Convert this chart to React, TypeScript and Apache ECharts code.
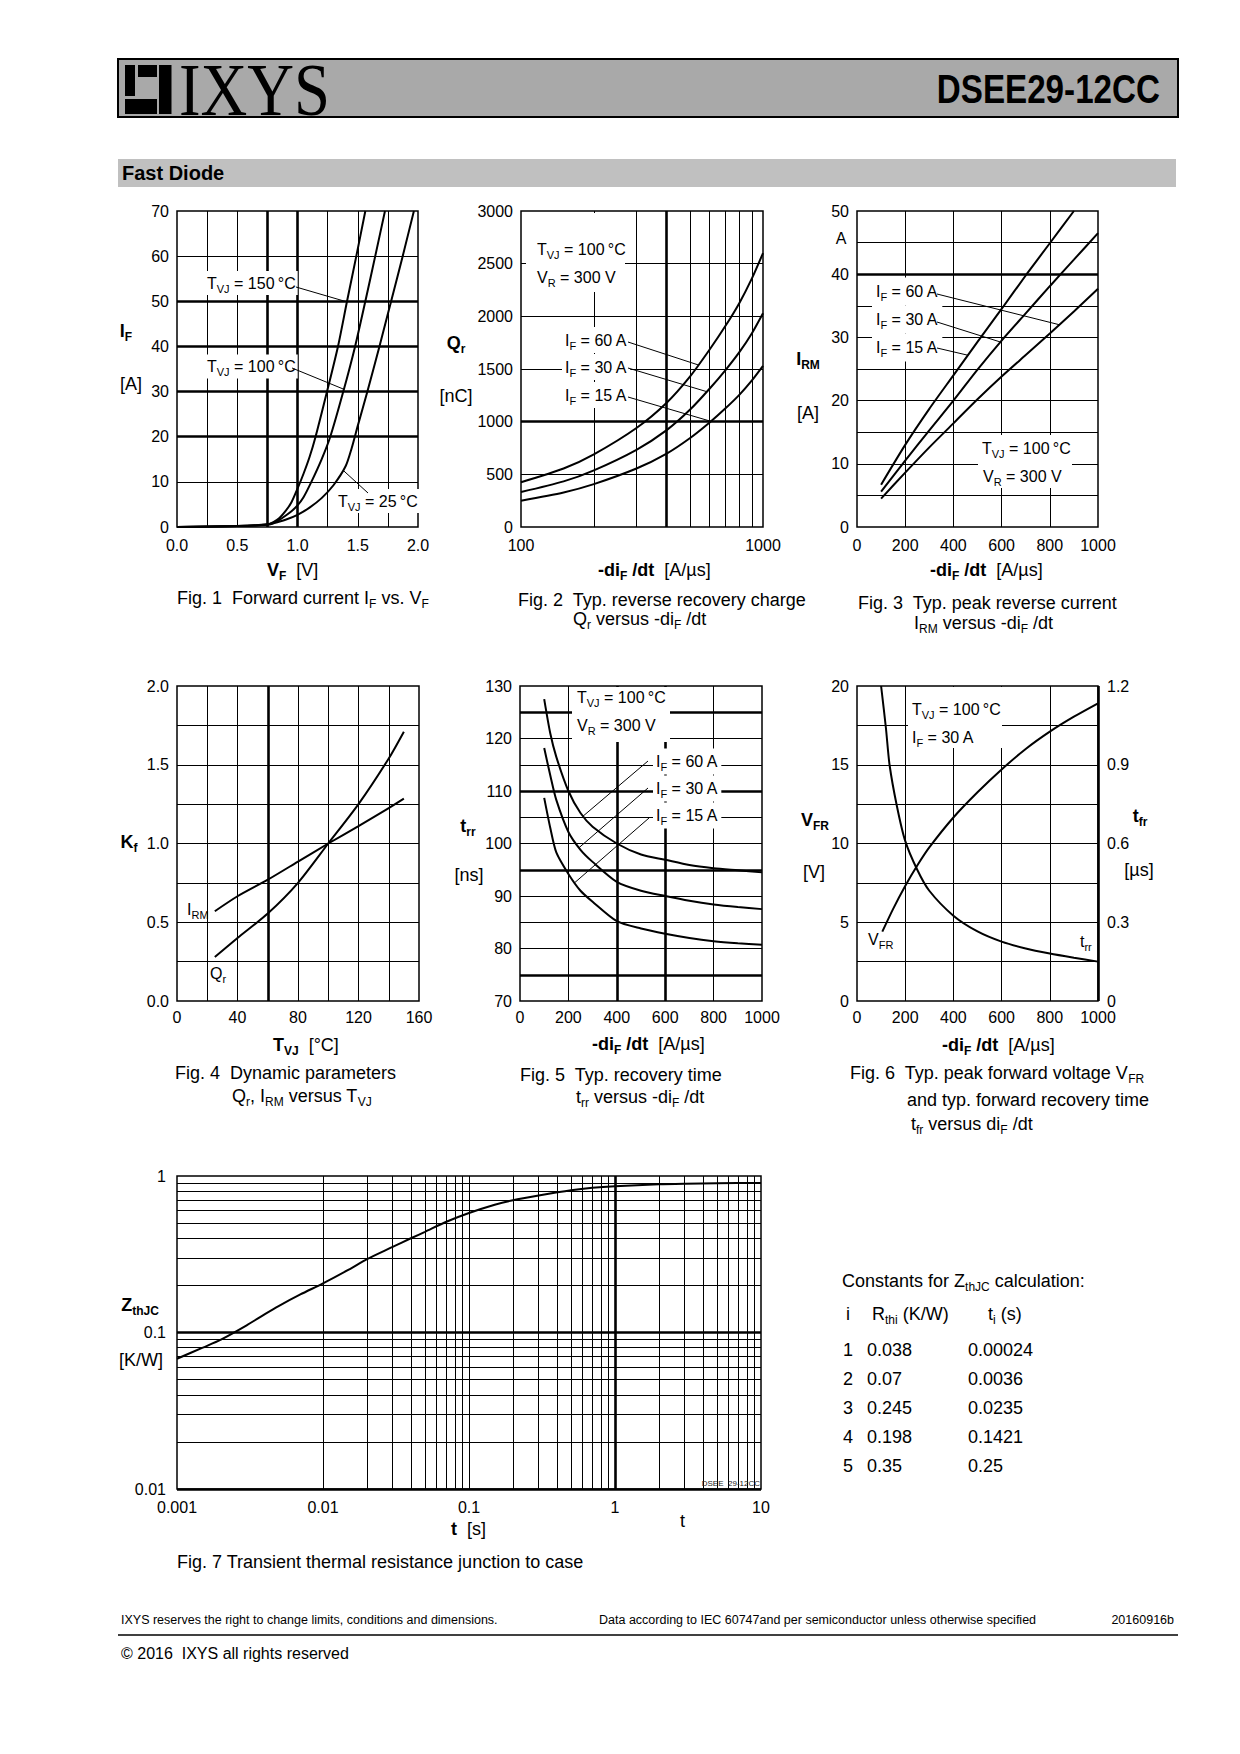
import React, { useEffect, useRef } from "react";
import * as echarts from "echarts";

type Pt = [number, number];
type Seg = [string, string];

const FONT = "'Liberation Sans', Arial, Helvetica, sans-serif";
const SERIF = "'Liberation Serif', 'Times New Roman', serif";
const DEG = "\u2009°C";

// ---------------- Fig. 1  Forward current IF vs VF ----------------
const fig1XTicks = ["0.0", "0.5", "1.0", "1.5", "2.0"];
const fig1YTicks = ["0", "10", "20", "30", "40", "50", "60", "70"];
const fig1Tvj150: Pt[] = [[0, 0], [0.5, 0.2], [0.75, 0.6], [0.8, 1.1], [0.85, 2.0], [0.9, 3.5], [0.95, 5.5], [1.0, 8.5], [1.05, 11.8], [1.1, 15.5], [1.15, 20], [1.245, 30], [1.336, 40], [1.411, 50], [1.488, 60], [1.563, 70]];
const fig1Tvj100: Pt[] = [[0, 0], [0.5, 0.2], [0.75, 0.55], [0.8, 0.95], [0.85, 1.6], [0.9, 2.5], [0.95, 3.5], [1.0, 4.8], [1.05, 6.6], [1.115, 10], [1.2, 15], [1.272, 20], [1.38, 30], [1.478, 40], [1.563, 50], [1.645, 60], [1.726, 70]];
const fig1Tvj25: Pt[] = [[0, 0], [0.5, 0.2], [0.75, 0.5], [0.8, 0.8], [0.9, 1.6], [1.0, 2.7], [1.1, 4.3], [1.2, 6.4], [1.3, 9.3], [1.4, 13.5], [1.45, 17.5], [1.5, 22.4], [1.58, 30], [1.68, 40], [1.777, 50], [1.873, 60], [1.966, 70]];
const fig1XGrid = [0.25, 0.5, 0.75, 1.0, 1.25, 1.5, 1.75];
const fig1XBold = [0.75, 1.0];
const fig1YGrid = [10, 20, 30, 40, 50, 60];
const fig1YBold = [20, 30, 40, 50];

// ---------------- Fig. 2  Qr versus -diF/dt ----------------
const fig2XTicks = ["100", "1000"];
const fig2YTicks = ["0", "500", "1000", "1500", "2000", "2500", "3000"];
const fig2If60: Pt[] = [[100, 425], [150, 555], [200, 690], [300, 940], [400, 1180], [500, 1430], [600, 1680], [700, 1910], [800, 2130], [900, 2360], [1000, 2600]];
const fig2If30: Pt[] = [[100, 332], [150, 433], [200, 538], [300, 733], [400, 920], [500, 1115], [600, 1310], [700, 1490], [800, 1662], [900, 1840], [1000, 2030]];
const fig2If15: Pt[] = [[100, 250], [150, 328], [200, 407], [300, 555], [400, 697], [500, 845], [600, 990], [700, 1127], [800, 1257], [900, 1392], [1000, 1530]];
const fig2XGrid = [200, 300, 400, 500, 600, 700, 800, 900];
const fig2XBold = [400];
const fig2YGrid = [500, 1000, 1500, 2000, 2500];
const fig2YBold = [1000];

// ---------------- Fig. 3  IRM versus -diF/dt ----------------
const fig3XTicks = ["0", "200", "400", "600", "800", "1000"];
const fig3YTicks = ["0", "10", "20", "30", "40", "50"];
const fig3If60: Pt[] = [[100, 6.7], [200, 13.0], [300, 18.7], [400, 24.0], [500, 29.3], [600, 34.5], [700, 39.8], [800, 44.9], [900, 50]];
const fig3If30: Pt[] = [[100, 5.6], [200, 10.5], [300, 15.3], [400, 20.0], [500, 24.9], [600, 29.5], [700, 33.8], [800, 38.1], [900, 42.3], [1000, 46.5]];
const fig3If15: Pt[] = [[100, 4.5], [200, 8.6], [300, 12.6], [400, 16.4], [500, 20.2], [600, 23.8], [700, 27.2], [800, 30.6], [900, 34.1], [1000, 37.7]];
const fig3XGrid = [200, 400, 600, 800];
const fig3YGrid = [5, 10, 15, 20, 25, 30, 35, 40, 45];
const fig3YBold = [40];

// ---------------- Fig. 4  Kf versus TVJ ----------------
const fig4XTicks = ["0", "40", "80", "120", "160"];
const fig4YTicks = ["0.0", "0.5", "1.0", "1.5", "2.0"];
const fig4Irm: Pt[] = [[25, 0.57], [40, 0.665], [60, 0.77], [80, 0.885], [100, 1.0], [120, 1.11], [140, 1.225], [150, 1.285]];
const fig4Qr: Pt[] = [[25, 0.28], [40, 0.4], [60, 0.555], [80, 0.75], [100, 1.0], [120, 1.25], [140, 1.54], [150, 1.71]];
const fig4XGrid = [20, 40, 60, 80, 100, 120, 140];
const fig4XBold = [60];
const fig4YGrid = [0.25, 0.5, 0.75, 1.0, 1.25, 1.5, 1.75];

// ---------------- Fig. 5  trr versus -diF/dt ----------------
const fig5XTicks = ["0", "200", "400", "600", "800", "1000"];
const fig5YTicks = ["70", "80", "90", "100", "110", "120", "130"];
const fig5If60: Pt[] = [[100, 127.5], [125, 121], [150, 116.5], [200, 110], [250, 105.8], [300, 103.2], [400, 100], [500, 97.9], [600, 96.9], [700, 95.9], [800, 95.3], [900, 94.9], [1000, 94.5]];
const fig5If30: Pt[] = [[100, 118.2], [125, 113], [150, 108.3], [200, 102.2], [250, 98.8], [300, 96.5], [400, 92.7], [500, 91.0], [600, 90.0], [700, 89.1], [800, 88.4], [900, 87.9], [1000, 87.5]];
const fig5If15: Pt[] = [[100, 108.7], [125, 103], [150, 98.3], [200, 94.2], [250, 91.0], [300, 88.9], [400, 85.2], [500, 83.8], [600, 82.8], [700, 82.0], [800, 81.4], [900, 81.0], [1000, 80.7]];
const fig5XGrid = [200, 400, 600, 800];
const fig5XBold = [400, 600];
const fig5YGrid = [75, 80, 85, 90, 95, 100, 105, 110, 115, 120, 125];
const fig5YBold = [75, 95, 110, 125];

// ---------------- Fig. 6  VFR and tfr versus diF/dt ----------------
const fig6XTicks = ["0", "200", "400", "600", "800", "1000"];
const fig6YLeftTicks = ["0", "5", "10", "15", "20"];
const fig6YRightTicks = ["0", "0.3", "0.6", "0.9", "1.2"];
const fig6Vfr: Pt[] = [[105, 4.4], [150, 5.85], [200, 7.3], [250, 8.6], [300, 9.75], [400, 11.65], [500, 13.25], [600, 14.7], [700, 16.0], [800, 17.1], [900, 18.05], [1000, 18.9]];
const fig6Tfr: Pt[] = [[100, 1.2], [120, 1.04], [135, 0.9], [165, 0.745], [200, 0.61], [250, 0.5], [300, 0.42], [400, 0.325], [500, 0.265], [600, 0.226], [700, 0.2], [800, 0.181], [900, 0.165], [1000, 0.15]];
const fig6XGrid = [200, 400, 600, 800, 1000];
const fig6XBold = [1000];
const fig6YGrid = [2.5, 5, 7.5, 10, 12.5, 15, 17.5];

// ---------------- Fig. 7  Transient thermal resistance ----------------
const fig7XTicks = ["0.001", "0.01", "0.1", "1", "10"];
const fig7YTicks = ["0.01", "0.1", "1"];
const fig7Zth: Pt[] = [[0.001, 0.068], [0.0015, 0.08], [0.002, 0.09], [0.003, 0.111], [0.004, 0.131], [0.005, 0.148], [0.007, 0.175], [0.01, 0.206], [0.015, 0.252], [0.02, 0.294], [0.03, 0.352], [0.04, 0.4], [0.05, 0.44], [0.07, 0.51], [0.1, 0.58], [0.15, 0.655], [0.2, 0.7], [0.3, 0.75], [0.5, 0.81], [0.7, 0.84], [1, 0.86], [2, 0.885], [3, 0.893], [5, 0.9], [10, 0.903]];
const fig7XDecades = [0.001, 0.01, 0.1, 1];
const fig7YDecades = [0.01, 0.1];
const logMult = [1, 2, 3, 4, 5, 6, 7, 8, 9];
const fig7XBold = [1];
const fig7YBold = [0.1, 0.01];

// ---------------- Constants table ----------------
const zthIndex = ["1", "2", "3", "4", "5"];
const zthR = ["0.038", "0.07", "0.245", "0.198", "0.35"];
const zthTau = ["0.00024", "0.0036", "0.0235", "0.1421", "0.25"];

const THIN = 1;
const BOLD = 2.6;
const CURVE = 2;

function fmt(labels: string[]) {
  return (v: number) => {
    const s = labels.find((l) => Math.abs(parseFloat(l) - v) <= 1e-6 * Math.max(Math.abs(v), 1e-9) + 1e-12);
    return s ?? "";
  };
}

function baseAxis(gridIndex: number, labels: string[], margin: number) {
  return {
    gridIndex,
    axisLine: { show: false },
    axisTick: { show: false },
    splitLine: { show: false },
    minorTick: { show: false },
    axisLabel: {
      color: "#000",
      fontSize: 16,
      fontFamily: FONT,
      margin,
      showMinLabel: true,
      showMaxLabel: true,
      formatter: fmt(labels),
    },
  };
}

function linAxis(gridIndex: number, min: number, max: number, interval: number, labels: string[], margin: number, extra: any = {}) {
  return { type: "value", min, max, interval, ...baseAxis(gridIndex, labels, margin), ...extra };
}

function logAxis(gridIndex: number, min: number, max: number, labels: string[], margin: number) {
  return { type: "log", logBase: 10, min, max, ...baseAxis(gridIndex, labels, margin) };
}

function gridMarks(xs: number[], xb: number[], ys: number[], yb: number[]) {
  const data: any[] = [];
  xs.forEach((v) => data.push({ xAxis: v, lineStyle: { width: xb.includes(v) ? BOLD : THIN } }));
  ys.forEach((v) => data.push({ yAxis: v, lineStyle: { width: yb.includes(v) ? BOLD : THIN } }));
  return {
    silent: true,
    symbol: ["none", "none"],
    label: { show: false },
    emphasis: { disabled: true },
    lineStyle: { color: "#000", type: "solid", width: THIN, opacity: 1 },
    animation: false,
    data,
  };
}

function curve(name: string, xi: number, yi: number, data: Pt[], marks?: any) {
  const s: any = {
    type: "line",
    name,
    xAxisIndex: xi,
    yAxisIndex: yi,
    data,
    showSymbol: false,
    symbol: "none",
    smooth: 0.25,
    lineStyle: { color: "#000", width: CURVE },
    itemStyle: { color: "#000" },
    silent: true,
    z: 3,
    animation: false,
  };
  if (marks) s.markLine = marks;
  return s;
}

function interpY(data: Pt[], x: number, logX = false) {
  for (let i = 0; i < data.length - 1; i++) {
    const [x0, y0] = data[i];
    const [x1, y1] = data[i + 1];
    if (x >= x0 && x <= x1) {
      const f = logX ? Math.log(x / x0) / Math.log(x1 / x0) : (x - x0) / (x1 - x0);
      return y0 + f * (y1 - y0);
    }
  }
  return data[data.length - 1][1];
}

function richText(segs: Seg[], size: number) {
  const sub = Math.round(size * 0.66);
  const lh = Math.round(size * 1.35);
  return {
    text: segs.map(([t, k]) => `{${k}|${t}}`).join(""),
    rich: {
      n: { fontSize: size, fontFamily: FONT, fill: "#000", lineHeight: lh, verticalAlign: "middle" },
      b: { fontSize: size, fontFamily: FONT, fontWeight: "bold", fill: "#000", lineHeight: lh, verticalAlign: "middle" },
      s: { fontSize: sub, fontFamily: FONT, fill: "#000", lineHeight: sub, verticalAlign: "bottom" },
      bs: { fontSize: sub, fontFamily: FONT, fontWeight: "bold", fill: "#000", lineHeight: sub, verticalAlign: "bottom" },
    },
  };
}

function txt(x: number, y: number, segs: Seg[], size = 16, extra: any = {}) {
  const r = richText(segs, size);
  const style: any = { text: r.text, rich: r.rich, align: extra.align || "left", verticalAlign: "middle" };
  if (extra.bg) {
    style.backgroundColor = extra.bg;
    style.padding = extra.pad || [2, 3];
  }
  return { type: "text", x, y, z: 60, silent: true, style };
}

function plain(x: number, y: number, text: string, font: string, extra: any = {}) {
  const el: any = {
    type: "text",
    x,
    y,
    z: 60,
    silent: true,
    style: { text, font, fill: extra.fill || "#000", align: extra.align || "left", verticalAlign: "middle" },
  };
  if (extra.scaleX) el.scaleX = extra.scaleX;
  return el;
}

function rect(x: number, y: number, w: number, h: number, fill: string, extra: any = {}) {
  return { type: "rect", z: extra.z ?? 55, silent: true, shape: { x, y, width: w, height: h }, style: { fill, stroke: extra.stroke || null, lineWidth: extra.lw || 0 } };
}

function seg(x1: number, y1: number, x2: number, y2: number, w = 1) {
  return { type: "line", z: 61, silent: true, shape: { x1, y1, x2, y2 }, style: { stroke: "#000", lineWidth: w } };
}

function buildOption() {
  const grids = [
    { left: 177, top: 211, width: 241, height: 316 },
    { left: 521, top: 211, width: 242, height: 316 },
    { left: 857, top: 211, width: 241, height: 316 },
    { left: 177, top: 686, width: 242, height: 315 },
    { left: 520, top: 686, width: 242, height: 315 },
    { left: 857, top: 686, width: 241, height: 315 },
    { left: 177, top: 1176, width: 584, height: 313 },
  ].map((g) => ({ ...g, show: true, borderColor: "#000", borderWidth: 1.5, backgroundColor: "transparent", containLabel: false }));

  const xAxis = [
    linAxis(0, 0, 2, 0.5, fig1XTicks, 10),
    logAxis(1, 100, 1000, fig2XTicks, 10),
    linAxis(2, 0, 1000, 200, fig3XTicks, 10),
    linAxis(3, 0, 160, 40, fig4XTicks, 8),
    linAxis(4, 0, 1000, 200, fig5XTicks, 8),
    linAxis(5, 0, 1000, 200, fig6XTicks, 8),
    logAxis(6, 0.001, 10, fig7XTicks, 10),
  ];
  const yAxis = [
    linAxis(0, 0, 70, 10, fig1YTicks, 8),
    linAxis(1, 0, 3000, 500, fig2YTicks, 8),
    linAxis(2, 0, 50, 10, fig3YTicks, 8),
    linAxis(3, 0, 2, 0.5, fig4YTicks, 8),
    linAxis(4, 70, 130, 10, fig5YTicks, 8),
    linAxis(5, 0, 20, 5, fig6YLeftTicks, 8),
    linAxis(5, 0, 1.2, 0.3, fig6YRightTicks, 9, { position: "right" }),
    logAxis(6, 0.01, 1, fig7YTicks, 11),
  ];

  const fig7X: number[] = [];
  fig7XDecades.forEach((d) => logMult.forEach((m) => { if (!(d === 0.001 && m === 1)) fig7X.push(d * m); }));
  const fig7Y: number[] = [];
  fig7YDecades.forEach((d) => logMult.forEach((m) => fig7Y.push(d * m)));

  const series = [
    curve("Tvj150", 0, 0, fig1Tvj150, gridMarks(fig1XGrid, fig1XBold, fig1YGrid, fig1YBold)),
    curve("Tvj100", 0, 0, fig1Tvj100),
    curve("Tvj25", 0, 0, fig1Tvj25),
    curve("Qr60", 1, 1, fig2If60, gridMarks(fig2XGrid, fig2XBold, fig2YGrid, fig2YBold)),
    curve("Qr30", 1, 1, fig2If30),
    curve("Qr15", 1, 1, fig2If15),
    curve("Irm60", 2, 2, fig3If60, gridMarks(fig3XGrid, [], fig3YGrid, fig3YBold)),
    curve("Irm30", 2, 2, fig3If30),
    curve("Irm15", 2, 2, fig3If15),
    curve("KfIrm", 3, 3, fig4Irm, gridMarks(fig4XGrid, fig4XBold, fig4YGrid, [])),
    curve("KfQr", 3, 3, fig4Qr),
    curve("trr60", 4, 4, fig5If60, gridMarks(fig5XGrid, fig5XBold, fig5YGrid, fig5YBold)),
    curve("trr30", 4, 4, fig5If30),
    curve("trr15", 4, 4, fig5If15),
    curve("Vfr", 5, 5, fig6Vfr, gridMarks(fig6XGrid, fig6XBold, fig6YGrid, [])),
    curve("tfr", 5, 6, fig6Tfr),
    curve("Zth", 6, 7, fig7Zth, gridMarks(fig7X, fig7XBold, fig7Y, fig7YBold)),
  ];

  return { animation: false, backgroundColor: "#ffffff", grid: grids, xAxis, yAxis, series };
}

function buildGraphics(chart: any) {
  const px = (xi: number, yi: number, x: number, y: number) => chart.convertToPixel({ xAxisIndex: xi, yAxisIndex: yi }, [x, y]) as number[];
  const leader = (sx: number, sy: number, xi: number, yi: number, data: Pt[], x: number, logX = false) => {
    const p = px(xi, yi, x, interpY(data, x, logX));
    return seg(sx, sy, p[0], p[1], 1);
  };
  const W = { bg: "#fff", pad: [2, 3] };
  const els: any[] = [];

  // Header
  els.push(rect(118, 59, 1060, 58, "#a9a9a9", { stroke: "#000", lw: 2, z: 50 }));
  els.push(rect(125, 65, 10, 31, "#000"));
  els.push(rect(138, 65, 19, 12, "#000"));
  els.push(rect(125, 99, 32, 15, "#000"));
  els.push(rect(159, 65, 12.5, 49, "#000"));
  els.push(plain(179, 89.5, "IXYS", `74px ${SERIF}`, { scaleX: 0.875 }));
  els.push(plain(1160, 89, "DSEE29-12CC", `bold 40px ${FONT}`, { align: "right", scaleX: 0.83 }));
  els.push(rect(118, 159, 1058, 28, "#c0c0c0", { z: 50 }));
  els.push(plain(122, 173, "Fast Diode", `bold 20px ${FONT}`));

  // ---- Fig 1 ----
  els.push(txt(126, 331, [["I", "b"], ["F", "bs"]], 18, { align: "center" }));
  els.push(txt(131, 384, [["[A]", "n"]], 18, { align: "center" }));
  els.push(txt(267, 570, [["V", "b"], ["F", "bs"], ["  [V]", "n"]], 18));
  els.push(txt(177, 598, [["Fig. 1  Forward current I", "n"], ["F", "s"], [" vs. V", "n"], ["F", "s"]], 18));
  els.push(txt(205, 283, [["T", "n"], ["VJ", "s"], [" = 150" + DEG, "n"]], 16, { bg: "#fff", pad: [1, 2] }));
  els.push(leader(296, 287, 0, 0, fig1Tvj150, 1.41));
  els.push(txt(205, 366.5, [["T", "n"], ["VJ", "s"], [" = 100" + DEG, "n"]], 16, { bg: "#fff", pad: [1, 2] }));
  els.push(leader(292, 368, 0, 0, fig1Tvj100, 1.385));
  els.push(txt(336, 501, [["T", "n"], ["VJ", "s"], [" = 25" + DEG, "n"]], 16, { bg: "#fff", pad: [1, 2] }));
  els.push(leader(368, 493, 0, 0, fig1Tvj25, 1.378));

  // ---- Fig 2 ----
  els.push(txt(456, 343, [["Q", "b"], ["r", "bs"]], 18, { align: "center" }));
  els.push(txt(456, 396, [["[nC]", "n"]], 18, { align: "center" }));
  els.push(txt(598, 570, [["-di", "b"], ["F", "bs"], [" /dt", "b"], ["  [A/µs]", "n"]], 18));
  els.push(txt(518, 600, [["Fig. 2  Typ. reverse recovery charge", "n"]], 18));
  els.push(txt(573, 619, [["Q", "n"], ["r", "s"], [" versus -di", "n"], ["F", "s"], [" /dt", "n"]], 18));
  els.push(rect(526, 213, 99, 79, "#fff"));
  els.push(txt(537, 249, [["T", "n"], ["VJ", "s"], [" = 100" + DEG, "n"]], 16));
  els.push(txt(537, 277, [["V", "n"], ["R", "s"], [" = 300 V", "n"]], 16));
  els.push(txt(562, 340, [["I", "n"], ["F", "s"], [" = 60 A", "n"]], 16, W));
  els.push(leader(628, 342, 1, 1, fig2If60, 541, true));
  els.push(txt(562, 367, [["I", "n"], ["F", "s"], [" = 30 A", "n"]], 16, W));
  els.push(leader(628, 368, 1, 1, fig2If30, 586, true));
  els.push(txt(562, 395, [["I", "n"], ["F", "s"], [" = 15 A", "n"]], 16, W));
  els.push(leader(628, 397, 1, 1, fig2If15, 609, true));

  // ---- Fig 3 ----
  els.push(txt(808, 359, [["I", "b"], ["RM", "bs"]], 18, { align: "center" }));
  els.push(txt(808, 413, [["[A]", "n"]], 18, { align: "center" }));
  els.push(txt(841, 238, [["A", "n"]], 16, { align: "center" }));
  els.push(txt(930, 570, [["-di", "b"], ["F", "bs"], [" /dt", "b"], ["  [A/µs]", "n"]], 18));
  els.push(txt(858, 603, [["Fig. 3  Typ. peak reverse current", "n"]], 18));
  els.push(txt(914, 623, [["I", "n"], ["RM", "s"], [" versus -di", "n"], ["F", "s"], [" /dt", "n"]], 18));
  els.push(txt(872, 291.5, [["I", "n"], ["F", "s"], [" = 60 A", "n"]], 16, { bg: "#fff", pad: [3, 4] }));
  els.push(leader(937, 294, 2, 2, fig3If15, 840));
  els.push(txt(872, 319.5, [["I", "n"], ["F", "s"], [" = 30 A", "n"]], 16, { bg: "#fff", pad: [3, 4] }));
  els.push(leader(937, 322, 2, 2, fig3If30, 595));
  els.push(txt(872, 347.5, [["I", "n"], ["F", "s"], [" = 15 A", "n"]], 16, { bg: "#fff", pad: [3, 4] }));
  els.push(leader(937, 348, 2, 2, fig3If60, 460));
  els.push(rect(978, 435, 94, 53, "#fff"));
  els.push(txt(982, 448, [["T", "n"], ["VJ", "s"], [" = 100" + DEG, "n"]], 16));
  els.push(txt(983, 476, [["V", "n"], ["R", "s"], [" = 300 V", "n"]], 16));

  // ---- Fig 4 ----
  els.push(txt(129, 842, [["K", "b"], ["f", "bs"]], 18, { align: "center" }));
  els.push(txt(273, 1045, [["T", "b"], ["VJ", "bs"], ["  [°C]", "n"]], 18));
  els.push(txt(175, 1073, [["Fig. 4  Dynamic parameters", "n"]], 18));
  els.push(txt(232, 1096, [["Q", "n"], ["r", "s"], [", I", "n"], ["RM", "s"], [" versus T", "n"], ["VJ", "s"]], 18));
  els.push(txt(187, 909, [["I", "n"], ["RM", "s"]], 16));
  els.push(txt(210, 973, [["Q", "n"], ["r", "s"]], 16));

  // ---- Fig 5 ----
  els.push(txt(468, 826, [["t", "b"], ["rr", "bs"]], 18, { align: "center" }));
  els.push(txt(469, 875, [["[ns]", "n"]], 18, { align: "center" }));
  els.push(txt(592, 1044, [["-di", "b"], ["F", "bs"], [" /dt", "b"], ["  [A/µs]", "n"]], 18));
  els.push(txt(520, 1075, [["Fig. 5  Typ. recovery time", "n"]], 18));
  els.push(txt(576, 1097, [["t", "n"], ["rr", "s"], [" versus -di", "n"], ["F", "s"], [" /dt", "n"]], 18));
  els.push(rect(572, 687, 98, 55, "#fff"));
  els.push(txt(577, 697.5, [["T", "n"], ["VJ", "s"], [" = 100" + DEG, "n"]], 16));
  els.push(txt(577, 725, [["V", "n"], ["R", "s"], [" = 300 V", "n"]], 16));
  els.push(txt(653, 761.5, [["I", "n"], ["F", "s"], [" = 60 A", "n"]], 16, W));
  els.push(leader(648, 761, 4, 4, fig5If60, 261));
  els.push(txt(653, 788.5, [["I", "n"], ["F", "s"], [" = 30 A", "n"]], 16, W));
  els.push(leader(648, 788, 4, 4, fig5If30, 244));
  els.push(txt(653, 815.5, [["I", "n"], ["F", "s"], [" = 15 A", "n"]], 16, W));
  els.push(leader(649, 818, 4, 4, fig5If15, 226));

  // ---- Fig 6 ----
  els.push(txt(815, 820, [["V", "b"], ["FR", "bs"]], 18, { align: "center" }));
  els.push(txt(814, 872, [["[V]", "n"]], 18, { align: "center" }));
  els.push(txt(1140, 816, [["t", "b"], ["fr", "bs"]], 18, { align: "center" }));
  els.push(txt(1139, 870, [["[µs]", "n"]], 18, { align: "center" }));
  els.push(txt(942, 1045, [["-di", "b"], ["F", "bs"], [" /dt", "b"], ["  [A/µs]", "n"]], 18));
  els.push(txt(850, 1073, [["Fig. 6  Typ. peak forward voltage V", "n"], ["FR", "s"]], 18));
  els.push(txt(907, 1100, [["and typ. forward recovery time", "n"]], 18));
  els.push(txt(911, 1124, [["t", "n"], ["fr", "s"], [" versus di", "n"], ["F", "s"], [" /dt", "n"]], 18));
  els.push(rect(908, 687, 94, 61, "#fff"));
  els.push(txt(912, 709, [["T", "n"], ["VJ", "s"], [" = 100" + DEG, "n"]], 16));
  els.push(txt(912, 737, [["I", "n"], ["F", "s"], [" = 30 A", "n"]], 16));
  els.push(txt(868, 939, [["V", "n"], ["FR", "s"]], 16));
  els.push(txt(1080, 941, [["t", "n"], ["rr", "s"]], 16));

  // ---- Fig 7 ----
  els.push(txt(140, 1305, [["Z", "b"], ["thJC", "bs"]], 18, { align: "center" }));
  els.push(txt(141, 1360, [["[K/W]", "n"]], 18, { align: "center" }));
  els.push(txt(451, 1529, [["t", "b"], ["  [s]", "n"]], 18));
  els.push(txt(680, 1521, [["t", "n"]], 18));
  els.push(plain(760, 1483, "DSEE  29-12CC", `8px ${FONT}`, { align: "right", fill: "#222" }));
  els.push(txt(177, 1562, [["Fig. 7 Transient thermal resistance junction to case", "n"]], 18));

  // ---- Constants table ----
  els.push(txt(842, 1280.5, [["Constants for Z", "n"], ["thJC", "s"], [" calculation:", "n"]], 18));
  els.push(txt(846, 1314, [["i", "n"]], 18));
  els.push(txt(872, 1314, [["R", "n"], ["thi", "s"], [" (K/W)", "n"]], 18));
  els.push(txt(988, 1314, [["t", "n"], ["i", "s"], [" (s)", "n"]], 18));
  zthIndex.forEach((idx, i) => {
    const y = 1350 + i * 29;
    els.push(txt(843, y, [[idx, "n"]], 18));
    els.push(txt(867, y, [[zthR[i], "n"]], 18));
    els.push(txt(968, y, [[zthTau[i], "n"]], 18));
  });

  // ---- Footer ----
  els.push(plain(121, 1620, "IXYS reserves the right to change limits, conditions and dimensions.", `12.5px ${FONT}`));
  els.push(plain(599, 1620, "Data according to IEC 60747and per semiconductor unless otherwise specified", `12.5px ${FONT}`));
  els.push(plain(1174, 1620, "20160916b", `12.5px ${FONT}`, { align: "right" }));
  els.push(seg(118, 1635, 1178, 1635, 1.5));
  els.push(plain(121, 1653, "© 2016  IXYS all rights reserved", `16px ${FONT}`));

  return els;
}

export default function App() {
  const ref = useRef<HTMLDivElement>(null);
  useEffect(() => {
    if (!ref.current) return;
    const chart = echarts.init(ref.current, undefined, { renderer: "svg", width: 1240, height: 1754 });
    chart.setOption(buildOption() as any);
    chart.setOption({ graphic: { elements: buildGraphics(chart) } } as any);
    return () => chart.dispose();
  }, []);
  return <div ref={ref} style={{ position: "absolute", left: 0, top: 0, width: 1240, height: 1754, background: "#fff" }} />;
}
